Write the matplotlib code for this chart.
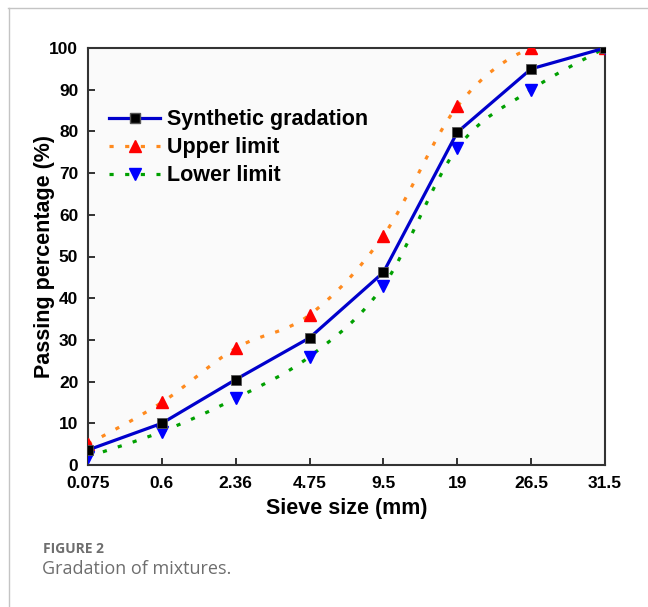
import matplotlib
matplotlib.use("Agg")
import matplotlib.pyplot as plt
import numpy as np
from matplotlib.lines import Line2D
from matplotlib.path import Path
from matplotlib.patches import PathPatch

# sieve sizes (categorical axis) and passing percentages
sieve_labels = ["0.075", "0.6", "2.36", "4.75", "9.5", "19", "26.5", "31.5"]
synthetic = [3.6, 10.0, 20.5, 30.5, 46.2, 79.8, 95.0, 100.0]
upper_limit = [5.0, 15.0, 28.0, 36.0, 55.0, 86.0, 100.0, 100.0]
lower_limit = [2.0, 8.0, 16.0, 26.0, 43.0, 76.0, 90.0, 100.0]

plt.rcParams["font.family"] = ["Liberation Sans", "DejaVu Sans"]
plt.rcParams["font.weight"] = "bold"

BLUE = "#0000CC"
ORANGE = "#FF8A1E"
GREEN = "#00A000"


def smooth_path(xs, ys):
    """Catmull-Rom style cubic Bezier path through the data points (drawing only)."""
    pts = np.column_stack([xs, ys]).astype(float)
    padded = np.vstack([pts[0], pts, pts[-1]])
    verts = [pts[0]]
    codes = [Path.MOVETO]
    for i in range(len(pts) - 1):
        p0, p1, p2, p3 = padded[i], padded[i + 1], padded[i + 2], padded[i + 3]
        verts += [p1 + (p2 - p0) / 6.0, p2 - (p3 - p1) / 6.0, p2]
        codes += [Path.CURVE4] * 3
    return Path(verts, codes)


fig = plt.figure(figsize=(6.48, 6.07), dpi=100)
ax = fig.add_axes([88 / 648, 1 - 465 / 607, 517 / 648, 417 / 607])
ax.set_facecolor("#FAFAFA")

x = np.arange(len(sieve_labels))
dots = (0, (1.3, 3.6))

ax.add_patch(PathPatch(smooth_path(x, upper_limit), fill=False, edgecolor=ORANGE,
                       lw=2.3, linestyle=dots, zorder=2))
ax.add_patch(PathPatch(smooth_path(x, lower_limit), fill=False, edgecolor=GREEN,
                       lw=2.3, linestyle=dots, zorder=2))
ax.plot(x, upper_limit, linestyle="none", marker="^", ms=8.5, color="#FF0000",
        mec="#FF0000", zorder=4)
ax.plot(x, lower_limit, linestyle="none", marker="v", ms=8.5, color="#0000FF",
        mec="#0000FF", zorder=4)
ax.plot(x, synthetic, color=BLUE, lw=2.3, marker="s", ms=6.5, mfc="black",
        mec="#555555", mew=0.6, zorder=5)

ax.set_xlim(0, len(sieve_labels) - 1)
ax.set_ylim(0, 100)
ax.set_xticks(x)
ax.set_xticklabels(sieve_labels)
ax.set_yticks(np.arange(0, 101, 10))
ax.tick_params(direction="in", length=5, width=1.3, labelsize=12.5, color="#222222")
ax.tick_params(axis="x", pad=8)
ax.tick_params(axis="y", pad=7)
for spine in ax.spines.values():
    spine.set_linewidth(1.5)
    spine.set_color("#333333")

ax.set_xlabel("Sieve size (mm)", fontsize=15.5, fontweight="bold")
ax.set_ylabel("Passing percentage (%)", fontsize=15.5, fontweight="bold")
ax.xaxis.set_label_coords(0.5, -0.078)
ax.yaxis.set_label_coords(-0.063, 0.5)

handles = [
    Line2D([], [], color=BLUE, lw=2.3, marker="s", ms=6.5, mfc="black", mec="#555555"),
    Line2D([], [], color=ORANGE, lw=2.3, linestyle=dots, marker="^", ms=8.5,
           mfc="#FF0000", mec="#FF0000"),
    Line2D([], [], color=GREEN, lw=2.3, linestyle=dots, marker="v", ms=8.5,
           mfc="#0000FF", mec="#0000FF"),
]
ax.legend(handles, ["Synthetic gradation", "Upper limit", "Lower limit"],
          loc="upper left", bbox_to_anchor=(0.04, 0.853), frameon=False,
          fontsize=15.5, handlelength=2.4, handletextpad=0.3, labelspacing=0.32,
          borderpad=0, borderaxespad=0, numpoints=1)

# page decorations and caption
fig.add_artist(Line2D([8 / 648, 1], [1 - 8 / 607] * 2, transform=fig.transFigure,
                      color="#C4C4C4", lw=1))
fig.add_artist(Line2D([9 / 648] * 2, [0, 1 - 8 / 607], transform=fig.transFigure,
                      color="#C4C4C4", lw=1))
fig.text(43 / 648, 1 - 549 / 607, "FIGURE 2", family=["Open Sans", "DejaVu Sans"],
         fontsize=10, fontweight="bold", color="#6E6E6E", va="center", ha="left")
fig.text(42 / 648, 1 - 569 / 607, "Gradation of mixtures.", family=["Open Sans", "DejaVu Sans"],
         fontsize=13, fontweight="normal", color="#6E6E6E", va="center", ha="left")

fig.savefig("out.png", dpi=100)
